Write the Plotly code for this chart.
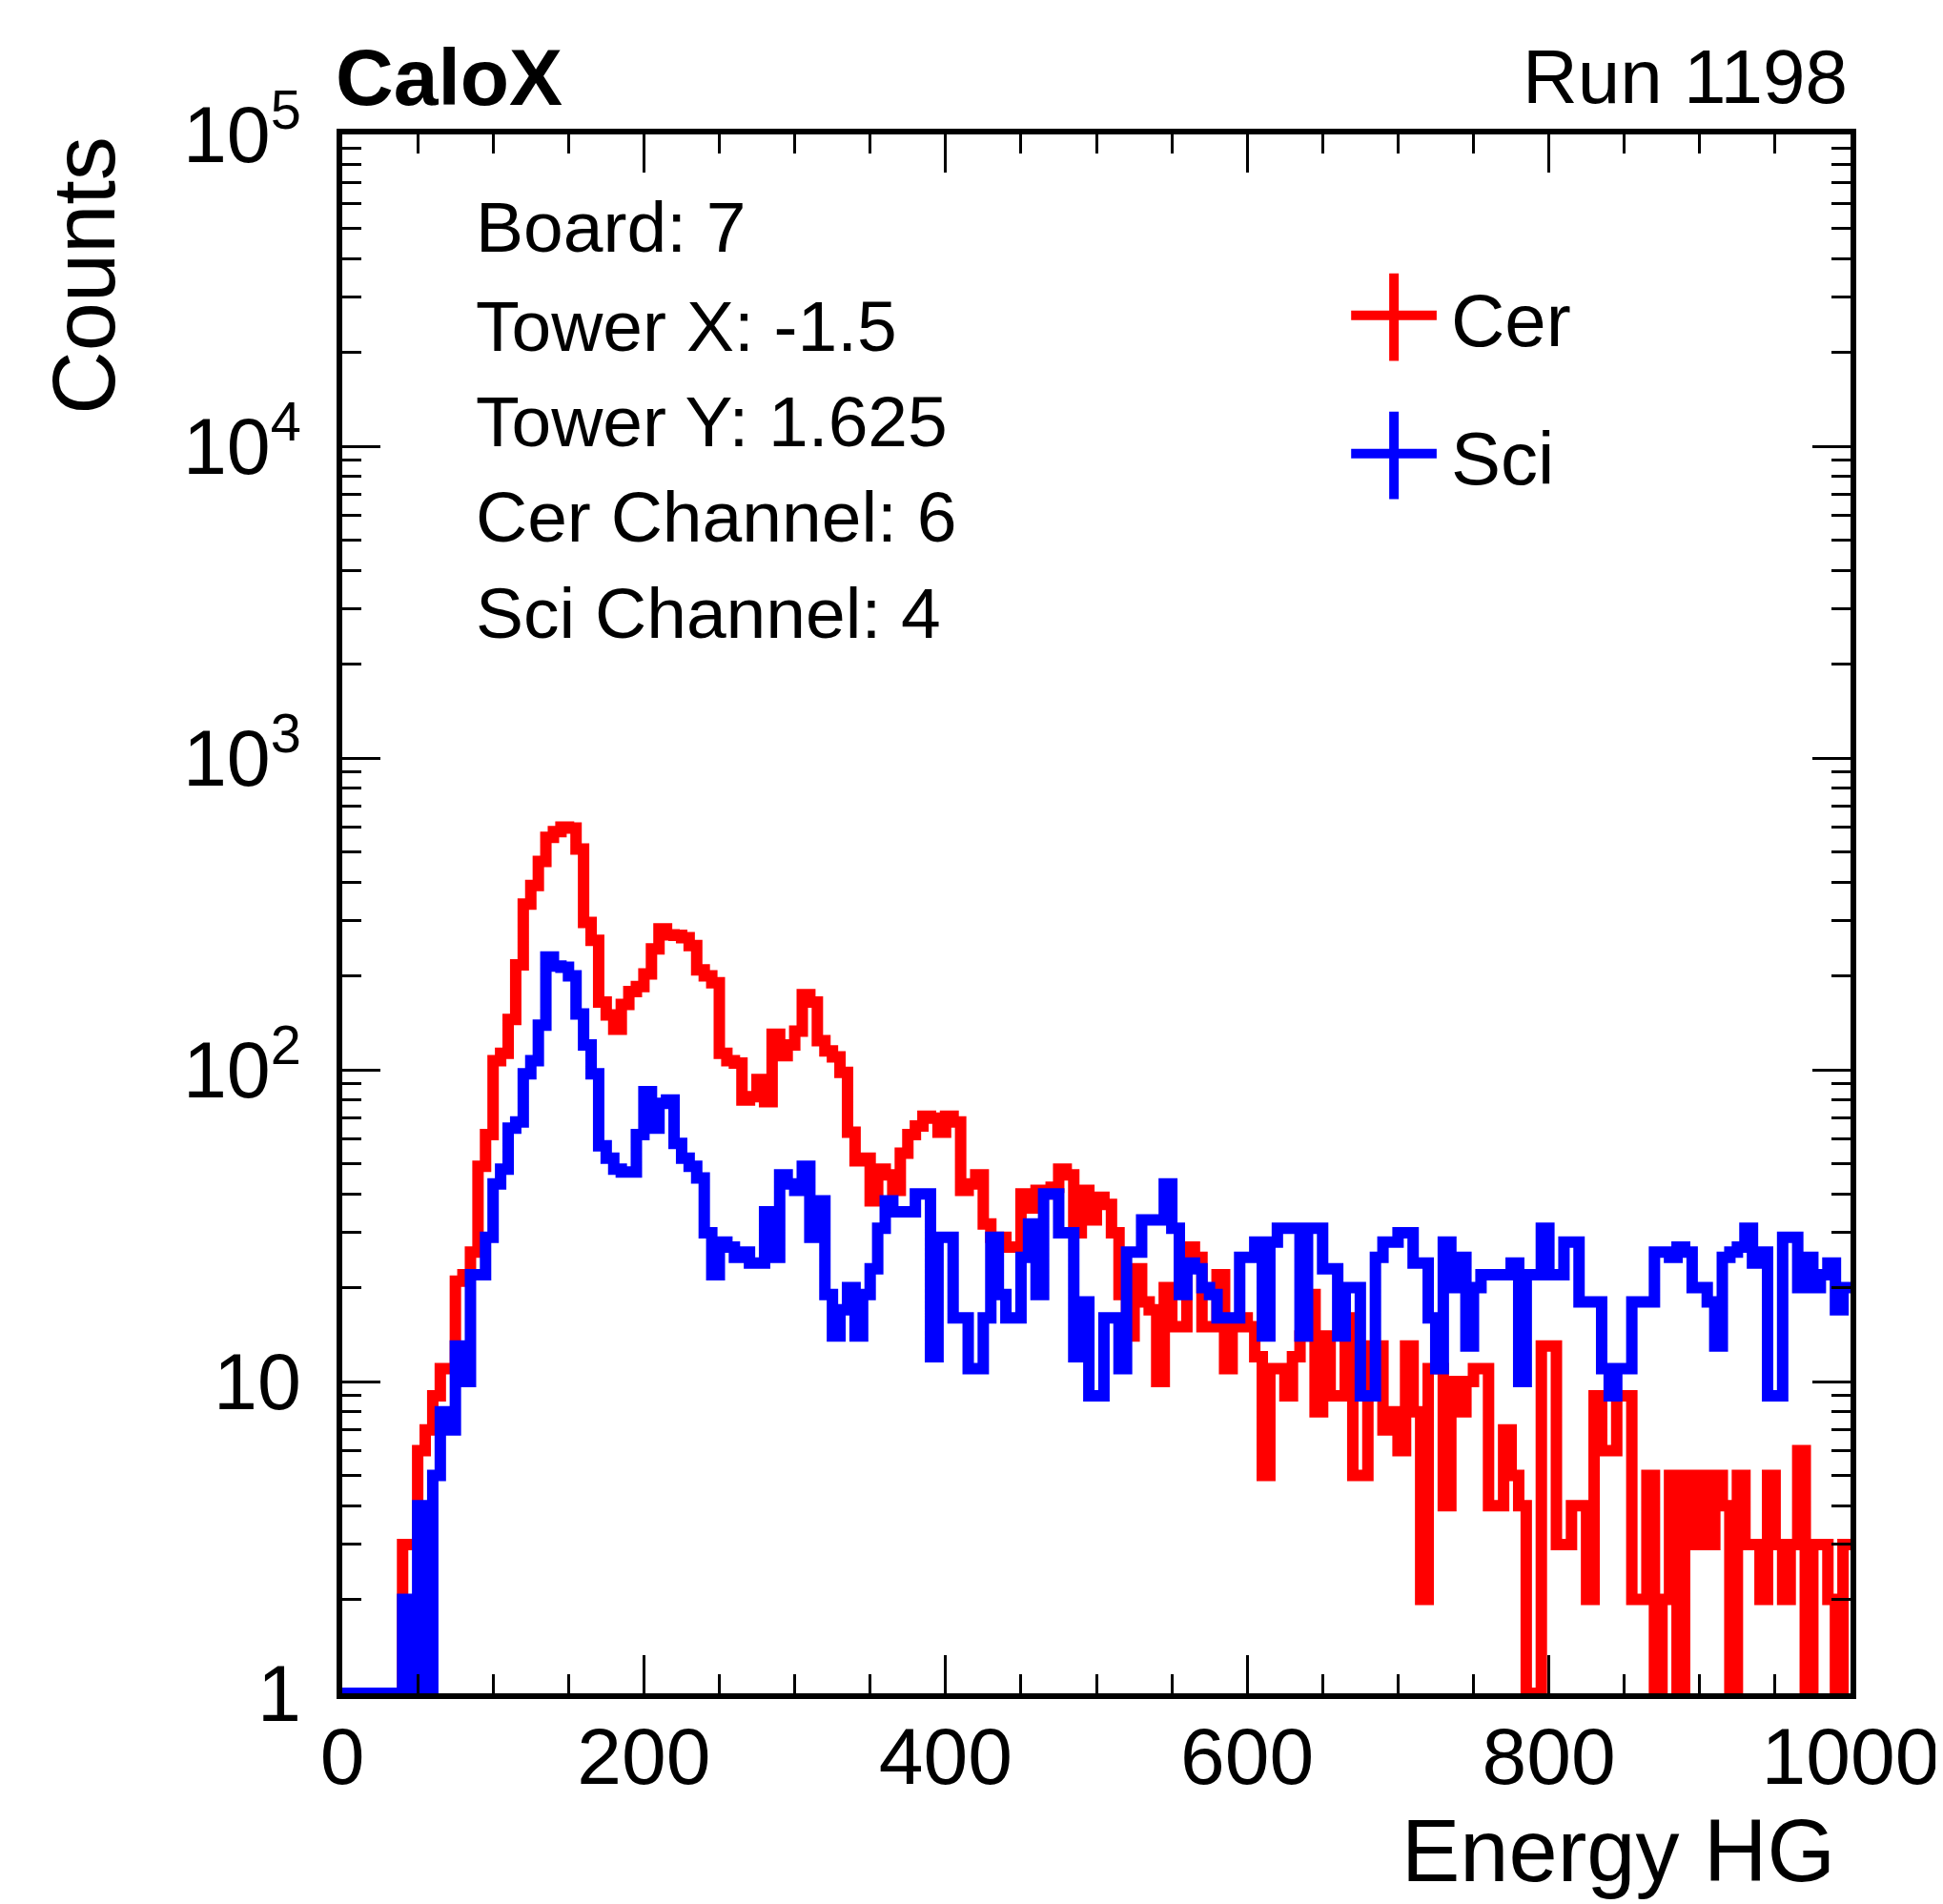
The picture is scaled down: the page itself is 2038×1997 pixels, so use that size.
import numpy as np
import plotly.graph_objects as go

# Energy HG histograms, 200 bins of width 5 between 0 and 1000
bin_width = 5
x_min, x_max = 0, 1000

cer_counts = [
    0, 0, 0, 0, 0, 0, 0, 0, 3, 3,
    6, 7, 9, 11, 11, 21, 22, 26, 49, 62,
    107, 113, 145, 217, 340, 390, 466, 556, 580, 600,
    596, 510, 297, 260, 165, 150, 135, 162, 178, 185,
    203, 244, 283, 271, 270, 265, 250, 209, 200, 190,
    113, 107, 105, 80, 82, 93, 79, 130, 111, 120,
    133, 174, 165, 124, 115, 110, 98, 63, 51, 52,
    38, 48, 46, 41, 54, 62, 66, 71, 70, 63,
    71, 68, 41, 43, 46, 32, 29, 29, 27, 27,
    40, 36, 41, 40, 42, 48, 46, 30, 41, 33,
    39, 37, 30, 19, 14, 23, 18, 17, 10, 20,
    15, 15, 27, 25, 15, 15, 22, 11, 15, 16,
    15, 12, 5, 11, 11, 9, 12, 14, 19, 8,
    14, 9, 9, 16, 5, 5, 13, 13, 7, 8,
    6, 13, 8, 2, 11, 11, 4, 10, 8, 10,
    11, 11, 4, 4, 7, 5, 4, 0, 0, 13,
    13, 3, 3, 4, 4, 2, 9, 6, 6, 9,
    9, 2, 2, 5, 0, 2, 5, 0, 5, 3,
    5, 3, 5, 4, 0, 5, 3, 3, 2, 5,
    3, 2, 3, 6, 0, 3, 3, 2, 0, 3,
]

sci_counts = [
    0, 0, 0, 0, 0, 0, 0, 0, 2, 0,
    4, 1, 5, 8, 7, 13, 10, 22, 22, 29,
    43, 48, 65, 68, 97, 107, 139, 230, 215, 213,
    200, 151, 120, 97, 57, 52, 48, 47, 47, 62,
    85, 65, 78, 80, 58, 52, 49, 45, 30, 22,
    28, 27, 25, 26, 24, 24, 35, 25, 46, 43,
    41, 49, 29, 38, 19, 14, 17, 20, 14, 19,
    23, 31, 38, 35, 35, 35, 40, 40, 12, 29,
    29, 16, 16, 11, 11, 16, 29, 19, 16, 16,
    25, 32, 19, 40, 40, 30, 30, 12, 18, 9,
    9, 16, 16, 11, 26, 26, 33, 33, 33, 43,
    31, 19, 24, 23, 20, 19, 16, 16, 16, 25,
    25, 28, 14, 28, 31, 31, 31, 14, 31, 31,
    23, 23, 14, 20, 20, 9, 9, 25, 28, 28,
    30, 30, 24, 24, 16, 11, 28, 20, 25, 13,
    20, 22, 22, 22, 22, 24, 10, 22, 22, 31,
    22, 22, 28, 28, 18, 18, 18, 11, 9, 11,
    11, 18, 18, 18, 26, 26, 25, 27, 26, 20,
    20, 18, 13, 25, 26, 27, 31, 24, 26, 9,
    9, 29, 29, 20, 25, 20, 22, 24, 17, 20,
]

info_lines = ['Board: 7', 'Tower X: -1.5', 'Tower Y: 1.625', 'Cer Channel: 6', 'Sci Channel: 4']
series_names = ['Cer', 'Sci']
series_colors = ['#ff0000', '#0000ff']

FONT = 'Liberation Sans'

edges = np.arange(x_min, x_max + bin_width, bin_width)


def hist_y(counts):
    # empty bins sit on the bottom of the frame like in ROOT
    y = [c if c > 0 else 1 for c in counts]
    return y + [y[-1]]


fig = go.Figure()
for name, counts, color in zip(series_names, [cer_counts, sci_counts], series_colors):
    fig.add_trace(go.Scatter(x=edges, y=hist_y(counts), name=name, mode='lines',
                             line=dict(color=color, width=12, shape='hv'), showlegend=False))

axis_common = dict(showline=True, linewidth=6, linecolor='black', mirror='allticks',
                   ticks='inside', ticklen=40, tickwidth=3, tickcolor='black',
                   showgrid=False, zeroline=False)

fig.update_xaxes(range=[x_min, x_max], tick0=0, dtick=200, ticklabelstandoff=-12,
                 tickfont=dict(family=FONT, size=84, color='black'),
                 minor=dict(dtick=50, ticks='inside', ticklen=20, tickwidth=3, tickcolor='black'),
                 **axis_common)
fig.update_yaxes(type='log', range=[0, 5], dtick=1, exponentformat='power', ticklabelstandoff=24,
                 tickfont=dict(family=FONT, size=66, color='black'),
                 minor=dict(dtick='D1', ticks='inside', ticklen=20, tickwidth=3, tickcolor='black'),
                 **axis_common)

annotations = []
# header
annotations.append(dict(text='<b>CaloX</b>', x=-0.006, y=1.037, xref='paper', yref='paper',
                        xanchor='left', yanchor='middle', showarrow=False,
                        font=dict(family=FONT, size=84, color='black')))
annotations.append(dict(text='Run 1198', x=0.9995, y=1.037, xref='paper', yref='paper',
                        xanchor='right', yanchor='middle', showarrow=False,
                        font=dict(family=FONT, size=80, color='black')))
# axis titles
annotations.append(dict(text='Energy HG', x=0.991, y=-0.101, xref='paper', yref='paper',
                        xanchor='right', yanchor='middle', showarrow=False,
                        font=dict(family=FONT, size=92, color='black')))
annotations.append(dict(text='Counts', x=-0.171, y=0.910, xref='paper', yref='paper',
                        xanchor='center', yanchor='middle', textangle=-90, showarrow=False,
                        font=dict(family=FONT, size=92, color='black')))
# info block
info_y = [0.9405, 0.8771, 0.8159, 0.7547, 0.6930]
for txt, yy in zip(info_lines, info_y):
    annotations.append(dict(text=txt, x=0.0875, y=yy, xref='paper', yref='paper',
                            xanchor='left', yanchor='middle', showarrow=False,
                            font=dict(family=FONT, size=75, color='black')))

# legend drawn like ROOT's error-cross entries
shapes = []
legend_y = [0.884, 0.7953]
for name, color, yy in zip(series_names, series_colors, legend_y):
    shapes.append(dict(type='line', xref='paper', yref='paper', x0=0.6689, x1=0.7256, y0=yy, y1=yy,
                       line=dict(color=color, width=10)))
    shapes.append(dict(type='line', xref='paper', yref='paper', x0=0.6973, x1=0.6973,
                       y0=yy - 0.0293, y1=yy + 0.0269, line=dict(color=color, width=10)))
    annotations.append(dict(text=name, x=0.734, y=yy - 0.003, xref='paper', yref='paper',
                            xanchor='left', yanchor='middle', showarrow=False,
                            font=dict(family=FONT, size=78, color='black')))

fig.update_layout(width=2038, height=1997, autosize=False,
                  margin=dict(l=351, r=99, t=133, b=229),
                  paper_bgcolor='white', plot_bgcolor='white',
                  font=dict(family=FONT, color='black'),
                  annotations=annotations, shapes=shapes)

fig.write_html('out.html')
